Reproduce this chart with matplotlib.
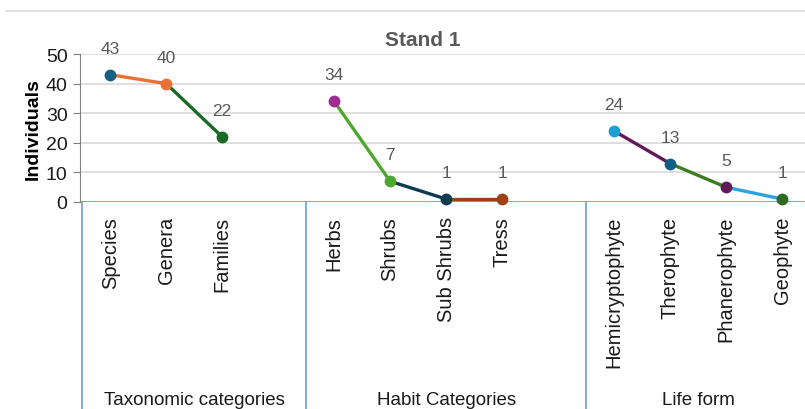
import matplotlib
matplotlib.use("Agg")
import matplotlib.pyplot as plt
import matplotlib.transforms as mtransforms
from matplotlib.lines import Line2D

# 数据
group_names = ["Taxonomic categories", "Habit Categories", "Life form"]
group_cats = [
    ["Species", "Genera", "Families"],
    ["Herbs", "Shrubs", "Sub Shrubs", "Tress"],
    ["Hemicryptophyte", "Therophyte", "Phanerophyte", "Geophyte"],
]
group_vals = [
    [43, 40, 22],
    [34, 7, 1, 1],
    [24, 13, 5, 1],
]
# 每个点的颜色和每段线的颜色（Excel 风格的逐点着色）
marker_colors = [
    ["#156082", "#E97132", "#196B24"],
    ["#A02B93", "#4EA72E", "#0E3A52", "#9C4214"],
    ["#1A9FD8", "#0F5E84", "#61195A", "#2E6B1F"],
]
segment_colors = [
    ["#E97132", "#196B24"],
    ["#4EA72E", "#0E3A52", "#9C4214"],
    ["#61195A", "#3C7D22", "#2EA3DC"],
]
y_ticks = [0, 10, 20, 30, 40, 50]

plt.rcParams["font.family"] = ["Liberation Sans", "DejaVu Sans"]

W, H = 805, 410
fig = plt.figure(figsize=(W / 100, H / 100), dpi=100)
ax_left, ax_right = 80, 810
ax_bottom, ax_top = 203, 55
ax = fig.add_axes([ax_left / W, 1 - ax_bottom / H, (ax_right - ax_left) / W, (ax_bottom - ax_top) / H])

# 计算每组的位置（组间留一个空位）
positions = []
dividers = [-0.5]
pos = 0
for cats in group_cats:
    positions.append(list(range(pos, pos + len(cats))))
    pos += len(cats) + 1
    dividers.append(pos - 0.5)
xmax = 12.5
dividers[-1] = xmax

ax.set_xlim(-0.54, xmax)
ax.set_ylim(0, 50)

for xs, vals, mcols, scols in zip(positions, group_vals, marker_colors, segment_colors):
    for i in range(len(xs) - 1):
        ax.plot(xs[i:i + 2], vals[i:i + 2], color=scols[i], lw=2.4,
                solid_capstyle="round", clip_on=False, zorder=3)
    for x, v, c in zip(xs, vals, mcols):
        ax.plot(x, v, "o", color=c, markersize=7.5, clip_on=False, zorder=4)
        ax.annotate(str(v), (x, v), xytext=(0, 19), textcoords="offset points",
                    ha="center", va="center", fontsize=12.5, color="#595959")

# 网格和坐标轴
ax.set_yticks(y_ticks)
ax.yaxis.grid(True, color="#d9d9d9", lw=1.2)
ax.set_axisbelow(True)
ax.set_xticks([])
for s in ["top", "right", "bottom"]:
    ax.spines[s].set_visible(False)
ax.spines["left"].set_color("#7f7f7f")
ax.tick_params(axis="y", direction="out", length=5, color="#7f7f7f",
               labelsize=14, labelcolor="#1a1a1a", pad=4)
ax.axhline(0, color="#6d9ec4", lw=1.2, zorder=2)
ax.set_ylabel("Individuals", fontsize=14, fontweight="bold", labelpad=3)
fig.text(423 / W, 1 - 41 / H, "Stand 1", fontsize=15, fontweight="bold",
         color="#595959", ha="center", va="center")

# 多级分类轴
trans = mtransforms.blended_transform_factory(ax.transData, ax.transAxes)
ax_h = ax_bottom - ax_top
for d in dividers[:-1]:
    ax.add_artist(Line2D([d, d], [0, -(H - ax_bottom) / ax_h], transform=trans,
                         color="#6d9ec4", lw=1.2, clip_on=False))
for xs, cats in zip(positions, group_cats):
    for x, c in zip(xs, cats):
        ax.text(x, -14 / ax_h, c, transform=trans, rotation=90, ha="center",
                va="top", fontsize=14.5, color="#1a1a1a")
for i, name in enumerate(group_names):
    mid = (dividers[i] + dividers[i + 1]) / 2
    ax.text(mid, -(H - 5 - ax_bottom) / ax_h, name, transform=trans, ha="center",
            va="baseline", fontsize=13.5, color="#1a1a1a")

fig.add_artist(Line2D([6 / W, 1], [1 - 12 / H, 1 - 12 / H], color="#d9d9d9", lw=1.2))

fig.savefig("out.png", dpi=100)
